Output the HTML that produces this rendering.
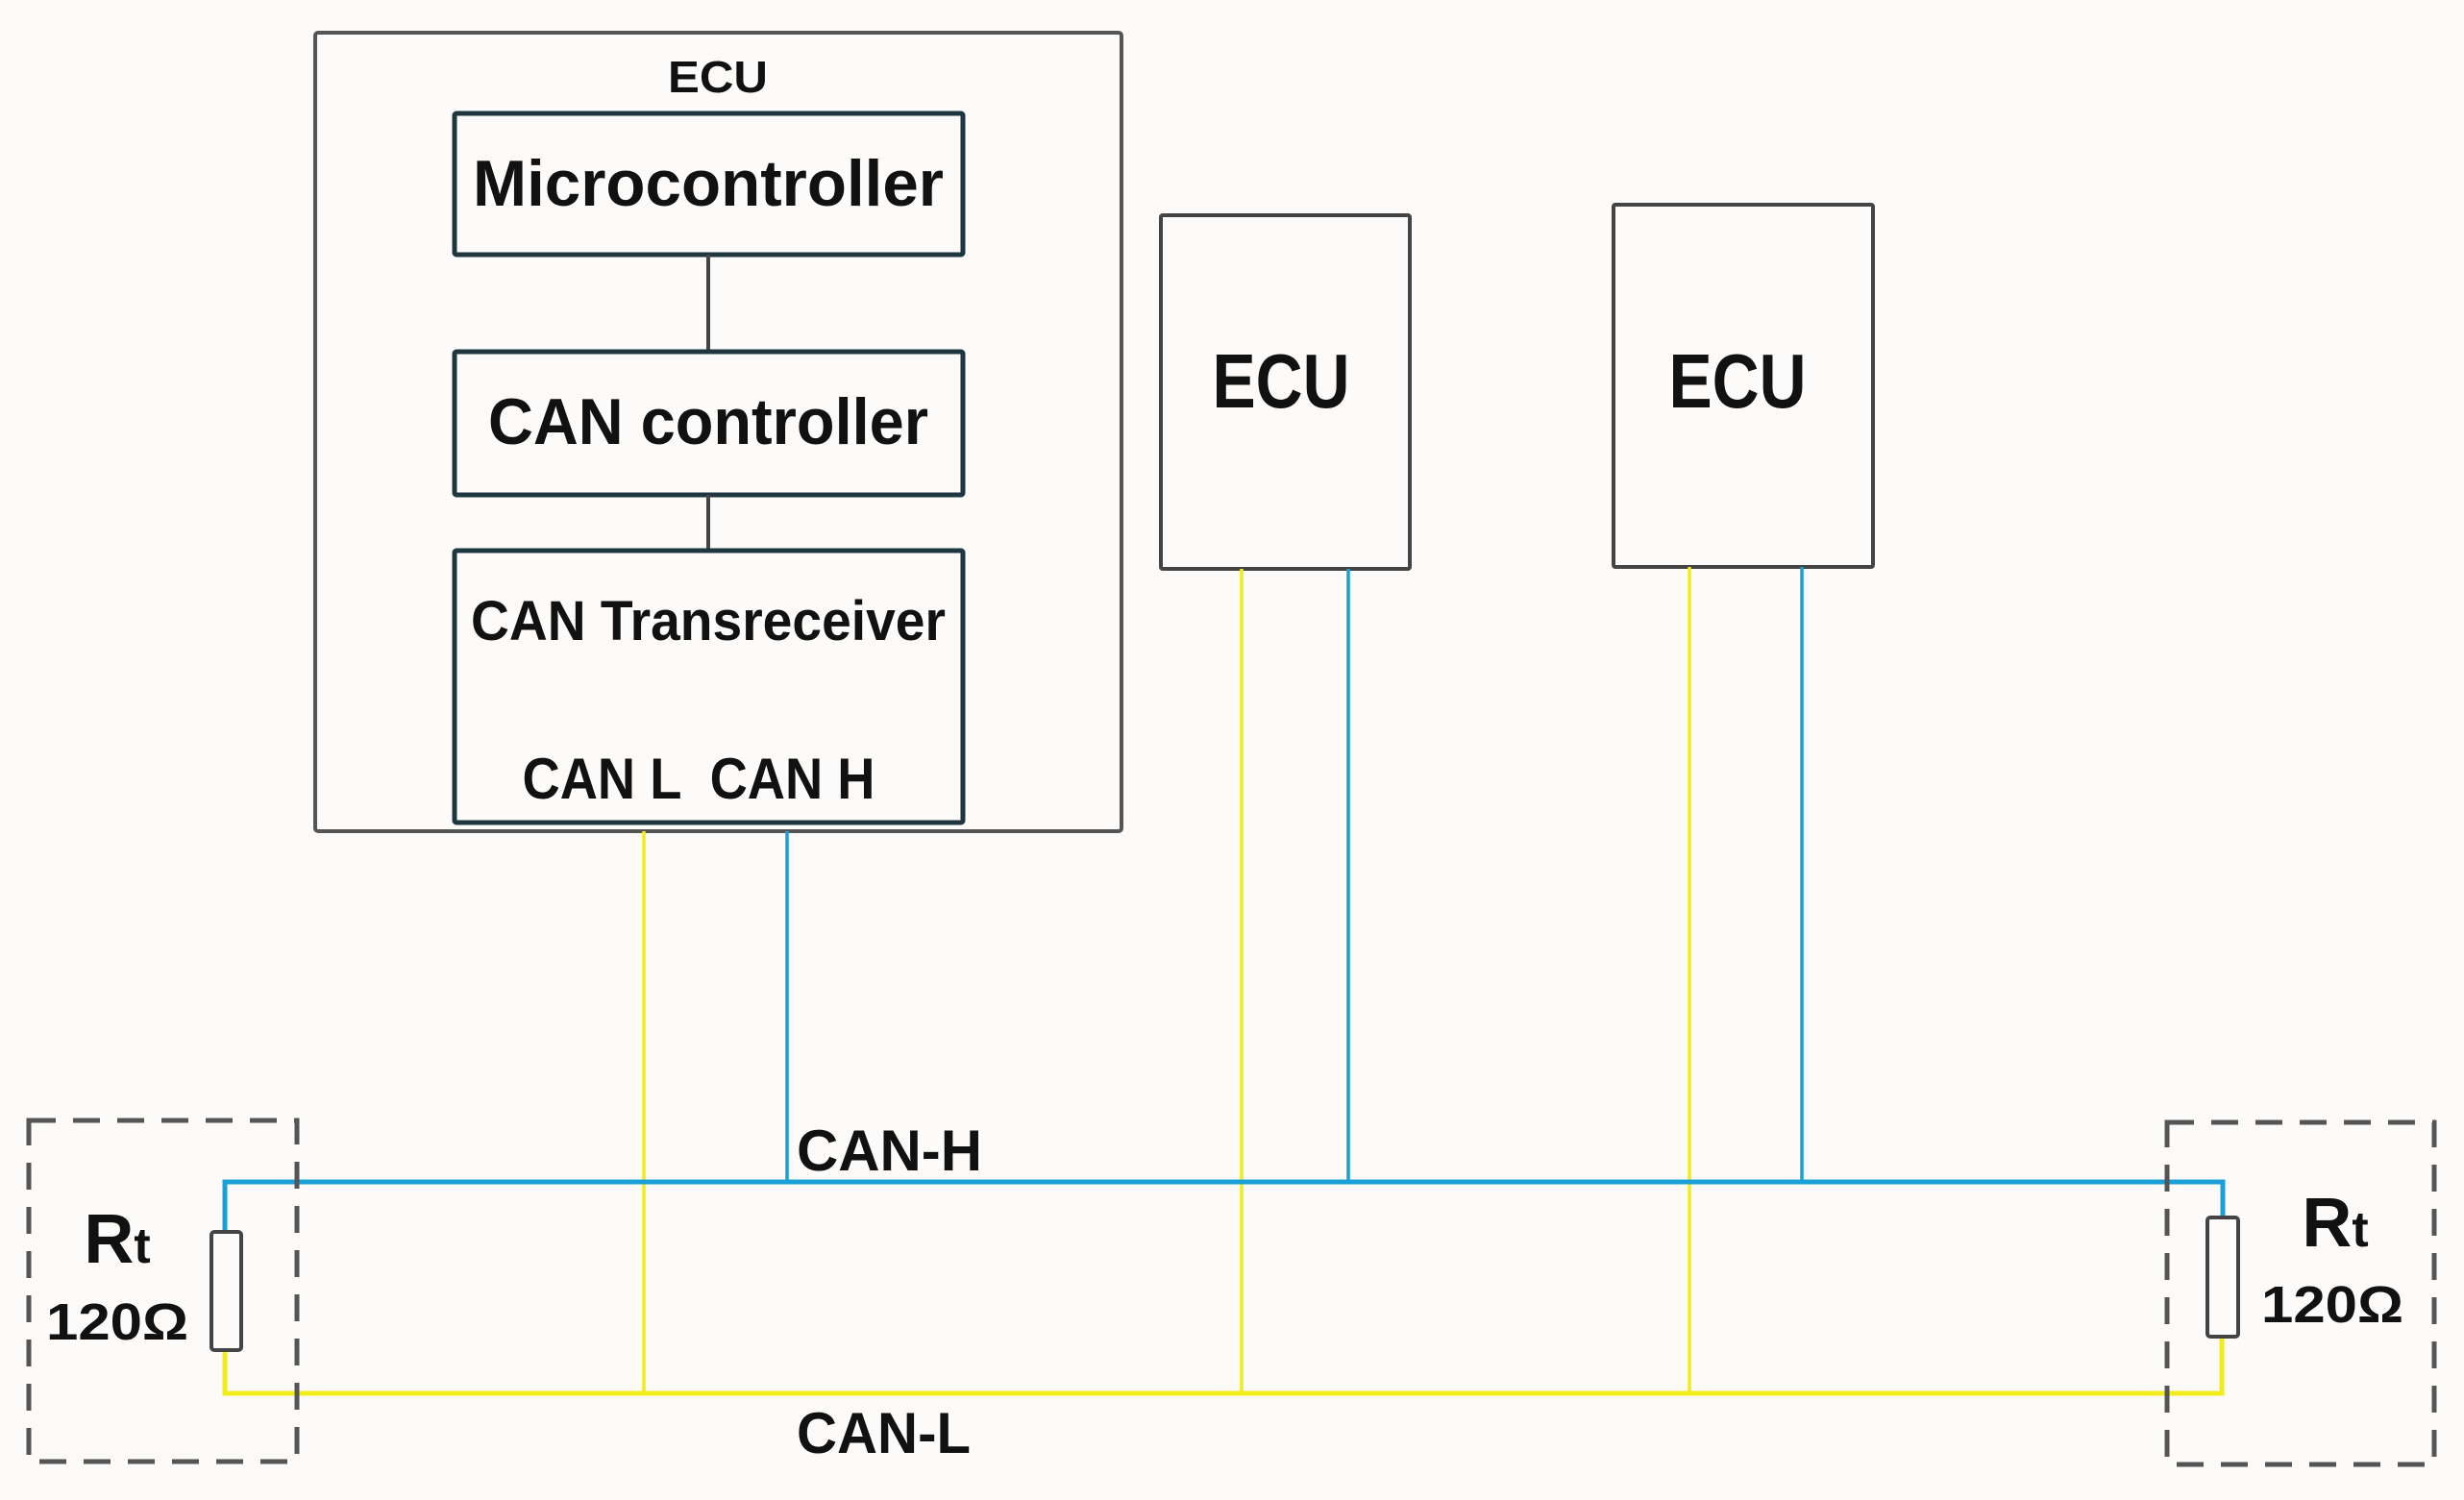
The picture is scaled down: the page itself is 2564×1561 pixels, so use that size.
<!DOCTYPE html>
<html><head><meta charset="utf-8"><style>
html,body{margin:0;padding:0;background:#fcfbf9;}
svg{display:block;}
text{font-family:"Liberation Sans",sans-serif;font-weight:bold;fill:#111;}
</style></head><body>
<svg width="2564" height="1561" viewBox="0 0 2564 1561" xmlns="http://www.w3.org/2000/svg">
<rect width="2564" height="1561" fill="#fcfbf9"/>
<rect x="328" y="34" width="839" height="831" fill="none" stroke="#555" stroke-width="4" rx="3"/>
<text x="747" y="96" font-size="46" text-anchor="middle" textLength="104" lengthAdjust="spacingAndGlyphs">ECU</text>
<rect x="473" y="118" width="529" height="147" fill="none" stroke="#1e3640" stroke-width="5" rx="2"/>
<text x="737" y="214" font-size="68" text-anchor="middle" textLength="490" lengthAdjust="spacingAndGlyphs">Microcontroller</text>
<line x1="737" y1="265" x2="737" y2="364" stroke="#444" stroke-width="4"/>
<rect x="473" y="366" width="529" height="149" fill="none" stroke="#1e3640" stroke-width="5" rx="2"/>
<text x="737" y="462" font-size="68" text-anchor="middle" textLength="458" lengthAdjust="spacingAndGlyphs">CAN controller</text>
<line x1="737" y1="515" x2="737" y2="572" stroke="#444" stroke-width="4"/>
<rect x="473" y="573" width="529" height="283" fill="none" stroke="#1e3640" stroke-width="5" rx="2"/>
<text x="737" y="666" font-size="58" text-anchor="middle" textLength="494" lengthAdjust="spacingAndGlyphs">CAN Transreceiver</text>
<text x="727" y="831" font-size="60" text-anchor="middle" textLength="367" lengthAdjust="spacingAndGlyphs" xml:space="preserve">CAN L  CAN H</text>
<rect x="1208" y="224" width="259" height="368" fill="none" stroke="#444" stroke-width="4" rx="2"/>
<text x="1333" y="424" font-size="80" text-anchor="middle" textLength="143" lengthAdjust="spacingAndGlyphs">ECU</text>
<rect x="1679" y="213" width="270" height="377" fill="none" stroke="#444" stroke-width="4" rx="2"/>
<text x="1808" y="424" font-size="80" text-anchor="middle" textLength="143" lengthAdjust="spacingAndGlyphs">ECU</text>
<g stroke-width="3.5" fill="none">
<line x1="670" y1="865" x2="670" y2="1450" stroke="#f2ec1a"/>
<line x1="819" y1="865" x2="819" y2="1230" stroke="#1aa0d6"/>
<line x1="1292" y1="592" x2="1292" y2="1450" stroke="#f2ec1a"/>
<line x1="1403" y1="592" x2="1403" y2="1230" stroke="#1aa0d6"/>
<line x1="1758" y1="590" x2="1758" y2="1450" stroke="#f2ec1a"/>
<line x1="1875" y1="590" x2="1875" y2="1230" stroke="#1aa0d6"/>
</g>
<polyline points="234,1282 234,1230 2313,1230 2313,1267" fill="none" stroke="#1aa0d6" stroke-width="5"/>
<polyline points="234,1405 234,1450 2312,1450 2312,1390" fill="none" stroke="#f2ec1a" stroke-width="5"/>
<rect x="220" y="1282" width="31" height="123" fill="#fcfbf9" stroke="#444" stroke-width="4" rx="3"/>
<rect x="2297" y="1267" width="32" height="124" fill="#fcfbf9" stroke="#444" stroke-width="4" rx="3"/>
<rect x="30" y="1166" width="279" height="355" fill="none" stroke="#555" stroke-width="5" stroke-dasharray="28,18"/>
<rect x="2255" y="1168" width="278" height="356" fill="none" stroke="#555" stroke-width="5" stroke-dasharray="28,18"/>
<text x="122" y="1314" font-size="72" text-anchor="middle">R<tspan font-size="52">t</tspan></text>
<text x="122" y="1394" font-size="54" text-anchor="middle" textLength="148" lengthAdjust="spacingAndGlyphs">120Ω</text>
<text x="2430" y="1297" font-size="72" text-anchor="middle">R<tspan font-size="52">t</tspan></text>
<text x="2427" y="1376" font-size="54" text-anchor="middle" textLength="148" lengthAdjust="spacingAndGlyphs">120Ω</text>
<text x="829" y="1218" font-size="60" textLength="193" lengthAdjust="spacingAndGlyphs">CAN-H</text>
<text x="829" y="1512" font-size="60" textLength="181" lengthAdjust="spacingAndGlyphs">CAN-L</text>
</svg>
</body></html>
